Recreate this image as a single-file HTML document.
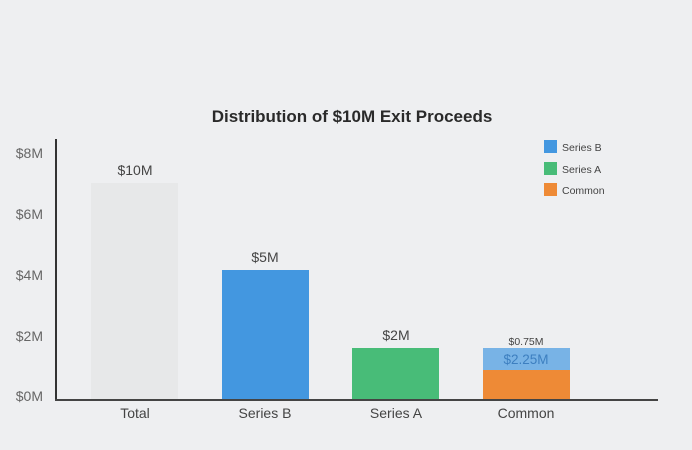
<!DOCTYPE html>
<html><head><style>
body{margin:0;width:692px;height:445px;background:#eeeff1;overflow:hidden;font-family:"Liberation Sans",sans-serif;}
</style></head><body>
<svg width="692" height="445" xmlns="http://www.w3.org/2000/svg" font-family="Liberation Sans, sans-serif">
<rect width="692" height="445" fill="#eeeff1"/>
<text x="352" y="122" text-anchor="middle" font-size="17" font-weight="bold" fill="#2a2a2a">Distribution of $10M Exit Proceeds</text>
<g font-size="14" fill="#666" text-anchor="end">
<text x="43" y="158">$8M</text>
<text x="43" y="219">$6M</text>
<text x="43" y="280">$4M</text>
<text x="43" y="341">$2M</text>
<text x="43" y="401">$0M</text>
</g>
<rect x="91" y="183" width="87" height="217" fill="#e7e8e9"/>
<rect x="222" y="270" width="87" height="130" fill="#4397e0"/>
<rect x="352" y="348" width="87" height="52" fill="#48bc78"/>
<rect x="483" y="348" width="87" height="22" fill="#78b3e6"/>
<rect x="483" y="370" width="87" height="30" fill="#ee8a36"/>
<line x1="56" y1="139" x2="56" y2="401" stroke="#333" stroke-width="2"/>
<line x1="55" y1="400" x2="658" y2="400" stroke="#444" stroke-width="2"/>
<g font-size="14" fill="#444" text-anchor="middle">
<text x="135" y="175">$10M</text>
<text x="265" y="262">$5M</text>
<text x="396" y="340">$2M</text>
<text x="526" y="345" font-size="10.5">$0.75M</text>
<text x="526" y="364" fill="#3d7fc0" font-size="13.5">$2.25M</text>
<text x="135" y="418">Total</text>
<text x="265" y="418">Series B</text>
<text x="396" y="418">Series A</text>
<text x="526" y="418">Common</text>
</g>
<rect x="544" y="140" width="13" height="13" fill="#4397e0"/>
<rect x="544" y="162" width="13" height="13" fill="#48bc78"/>
<rect x="544" y="183" width="13" height="13" fill="#ee8a36"/>
<g font-size="10.5" fill="#444">
<text x="562" y="151">Series B</text>
<text x="562" y="173">Series A</text>
<text x="562" y="194">Common</text>
</g>
</svg>
</body></html>
